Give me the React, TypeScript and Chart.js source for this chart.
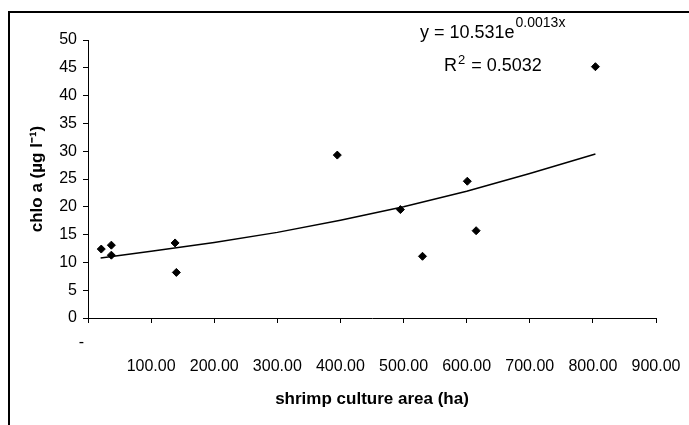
import React, { useEffect, useRef } from 'react';
import { Chart, registerables } from 'chart.js';

Chart.register(...registerables);

// ---- data ----
const areaHa = [21, 37, 37, 138, 140, 395, 495, 530, 601, 615, 804];
const chloA = [12.4, 13.1, 11.3, 13.5, 8.2, 29.3, 19.5, 11.1, 24.6, 15.7, 45.2];

// trend line points
const trendX = [20, 100, 200, 300, 400, 500, 600, 700, 804];
const trendY = [10.8, 12.0, 13.6, 15.4, 17.6, 20.0, 22.8, 26.0, 29.5];

const xTickValues = [0, 100, 200, 300, 400, 500, 600, 700, 800, 900];
const yTickValues = [0, 5, 10, 15, 20, 25, 30, 35, 40, 45, 50];

const xTitle = 'shrimp culture area (ha)';
const yTitle = 'chlo a (µg l⁻¹)';
const eqMain = 'y = 10.531e';
const eqExp = '0.0013x';
const r2Main = 'R';
const r2Exp = '2';
const r2Rest = ' = 0.5032';

const FONT = "'Liberation Sans', Arial, sans-serif";

const framePlugin = {
  id: 'frame',
  beforeDraw(chart: any) {
    const ctx = chart.ctx;
    ctx.save();
    ctx.fillStyle = '#fff';
    ctx.fillRect(0, 0, chart.width, chart.height);
    ctx.fillStyle = '#000';
    ctx.fillRect(8, 11, chart.width, 2);
    ctx.fillRect(8, 11, 2, chart.height);
    ctx.restore();
  },
};

const equationPlugin = {
  id: 'equation',
  afterDraw(chart: any) {
    const ctx = chart.ctx;
    ctx.save();
    ctx.fillStyle = '#000';
    ctx.textBaseline = 'alphabetic';
    ctx.textAlign = 'left';
    // line 1
    ctx.font = `18px ${FONT}`;
    let x = 420;
    ctx.fillText(eqMain, x, 38);
    x += ctx.measureText(eqMain).width;
    ctx.font = `14px ${FONT}`;
    ctx.fillText(eqExp, x + 1, 27);
    // line 2
    ctx.font = `18px ${FONT}`;
    x = 444;
    ctx.fillText(r2Main, x, 71);
    x += ctx.measureText(r2Main).width;
    ctx.font = `13px ${FONT}`;
    ctx.fillText(r2Exp, x + 1, 64);
    x += ctx.measureText(r2Exp).width + 2;
    ctx.font = `18px ${FONT}`;
    ctx.fillText(r2Rest, x, 71);
    ctx.restore();
  },
};

export default function App() {
  const ref = useRef<HTMLCanvasElement | null>(null);

  useEffect(() => {
    document.body.style.margin = '0';
    document.body.style.overflow = 'hidden';
    const canvas = ref.current;
    if (!canvas) return;

    const scatterData = areaHa.map((x, i) => ({ x, y: chloA[i] }));
    const trendData = trendX.map((x, i) => ({ x, y: trendY[i] }));

    const chart = new Chart(canvas, {
      type: 'scatter',
      data: {
        datasets: [
          {
            label: 'chlo a',
            data: scatterData,
            pointStyle: 'rectRot',
            pointRadius: 4,
            pointBackgroundColor: '#000',
            pointBorderColor: '#000',
            pointBorderWidth: 1,
            showLine: false,
            order: 1,
          },
          {
            label: 'trend',
            data: trendData,
            showLine: true,
            borderColor: '#000',
            borderWidth: 1.5,
            pointRadius: 0,
            fill: false,
            tension: 0,
            order: 2,
          } as any,
        ],
      },
      options: {
        responsive: false,
        animation: false,
        events: [],
        layout: { padding: { top: 40, right: 33, left: 0, bottom: 0 } },
        plugins: {
          legend: { display: false },
          tooltip: { enabled: false },
          title: { display: false },
        },
        scales: {
          x: {
            type: 'linear',
            min: 0,
            max: 900,
            afterBuildTicks: (scale: any) => {
              scale.ticks = xTickValues.map((v) => ({ value: v }));
            },
            afterFit: (scale: any) => {
              scale.height = 107;
            },
            ticks: {
              autoSkip: false,
              maxRotation: 0,
              minRotation: 0,
              padding: 8,
              color: '#000',
              font: { family: FONT, size: 16, lineHeight: 1.5 },
              callback: (v: any) => (Number(v) === 0 ? ['-   ', ''] : ['', Number(v).toFixed(2)]),
            },
            grid: { drawOnChartArea: false, drawTicks: true, tickLength: 5, color: '#000', lineWidth: 1 },
            border: { display: true, color: '#000', width: 1 },
            title: {
              display: true,
              text: xTitle,
              color: '#000',
              font: { family: FONT, size: 17, weight: 'bold' },
              padding: { top: 0, bottom: 15 },
            },
          },
          y: {
            type: 'linear',
            min: 0,
            max: 50,
            afterBuildTicks: (scale: any) => {
              scale.ticks = yTickValues.map((v) => ({ value: v }));
            },
            afterFit: (scale: any) => {
              scale.width = 88;
            },
            ticks: {
              padding: 6,
              color: '#000',
              font: { family: FONT, size: 16 },
            },
            grid: { drawOnChartArea: false, drawTicks: true, tickLength: 5, color: '#000', lineWidth: 1 },
            border: { display: true, color: '#000', width: 1 },
            title: {
              display: true,
              text: yTitle,
              color: '#000',
              font: { family: FONT, size: 17, weight: 'bold' },
              padding: { top: 27, bottom: 0 },
            },
          },
        },
      },
      plugins: [framePlugin, equationPlugin],
    });

    return () => chart.destroy();
  }, []);

  return <canvas ref={ref} width={689} height={425} style={{ display: 'block' }} />;
}
